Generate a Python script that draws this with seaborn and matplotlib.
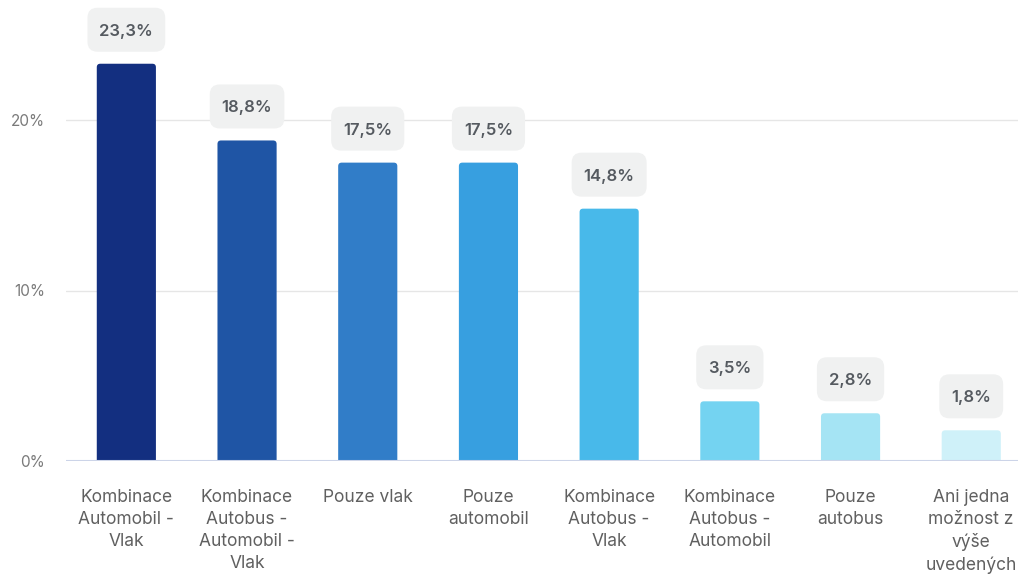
import matplotlib
matplotlib.use("Agg")
import matplotlib.pyplot as plt
from matplotlib.patches import FancyBboxPatch
import seaborn as sns
import pandas as pd

categories = [
    "Kombinace\nAutomobil -\nVlak",
    "Kombinace\nAutobus -\nAutomobil -\nVlak",
    "Pouze vlak",
    "Pouze\nautomobil",
    "Kombinace\nAutobus -\nVlak",
    "Kombinace\nAutobus -\nAutomobil",
    "Pouze\nautobus",
    "Ani jedna\nmožnost z\nvýše\nuvedených",
]
values = [23.3, 18.8, 17.5, 17.5, 14.8, 3.5, 2.8, 1.8]
colors = ["#132F80", "#1F55A5", "#317DC8", "#379FE0",
          "#48B9EA", "#74D3F1", "#A5E4F4", "#CFF1F9"]
yticks = [0, 10, 20]

sns.set_theme(style="white")
plt.rcParams["font.family"] = ["Inter", "DejaVu Sans"]

df = pd.DataFrame({"cat": categories, "val": values})

fig = plt.figure(figsize=(10.18, 5.74), dpi=100)
ax = fig.add_axes([66 / 1018, 1 - 461 / 574, (1018 - 66) / 1018, 461 / 574])

sns.barplot(data=df, x="cat", y="val", hue="cat", palette=colors,
            saturation=1, width=0.49, legend=False, ax=ax, zorder=3)

ax.set_xlim(-0.5, -0.5 + 952 / 120.7)
ax.set_ylim(0, 461 / 17.05)

# pixel-to-data scale factors for sizing the rounded shapes
x_per_px = (952 / 120.7) / 952
y_per_px = (461 / 17.05) / 461
aspect = y_per_px / x_per_px

# swap each bar for a version with softly rounded top corners;
# the rounded bottom sits below the baseline and is clipped away
r_px = 3.5
for p in list(ax.patches):
    x, w, h = p.get_x(), p.get_width(), p.get_height()
    fc = p.get_facecolor()
    rounded = FancyBboxPatch((x, -r_px * y_per_px), w, h + r_px * y_per_px,
                             boxstyle=f"round,pad=0,rounding_size={r_px * x_per_px}",
                             mutation_aspect=aspect,
                             facecolor=fc, edgecolor="none", zorder=3)
    ax.add_patch(rounded)
    p.set_visible(False)

# value badges: text plus a rounded grey box sized around it
texts = []
for i, v in enumerate(values):
    label = f"{v:.1f}".replace(".", ",") + "%"
    t = ax.annotate(label, xy=(i, v), xytext=(0, 34 * 0.72), textcoords="offset points",
                    ha="center", va="center_baseline", fontsize=12, fontweight="semibold",
                    color="#555a60", zorder=6, annotation_clip=False)
    texts.append(t)

fig.canvas.draw()
renderer = fig.canvas.get_renderer()
box_h_px = 44
for i, (v, t) in enumerate(zip(values, texts)):
    tw = t.get_window_extent(renderer).width
    bw_px = tw + 24
    cy = v + 34 * y_per_px
    badge = FancyBboxPatch((i - bw_px * x_per_px / 2, cy - box_h_px * y_per_px / 2),
                           bw_px * x_per_px, box_h_px * y_per_px,
                           boxstyle=f"round,pad=0,rounding_size={10 * x_per_px}",
                           mutation_aspect=aspect, facecolor="#F0F1F1",
                           edgecolor="none", zorder=5, clip_on=False)
    ax.add_patch(badge)

ax.set_yticks(yticks)
ax.set_yticklabels([f"{t}%" for t in yticks])
ax.yaxis.grid(True, color="#E6E6E6", linewidth=1, zorder=0)
ax.axhline(0, color="#CCD4E8", linewidth=1.5, zorder=4)
ax.tick_params(axis="y", length=0, pad=15, labelsize=11, labelcolor="#7a7a7a")
ax.tick_params(axis="x", length=0, pad=20, labelsize=12.5, labelcolor="#606060")
for lbl in ax.get_xticklabels():
    lbl.set_linespacing(1.38)
ax.set_xlabel("")
ax.set_ylabel("")
for s in ax.spines.values():
    s.set_visible(False)

fig.savefig("out.png", dpi=100)
